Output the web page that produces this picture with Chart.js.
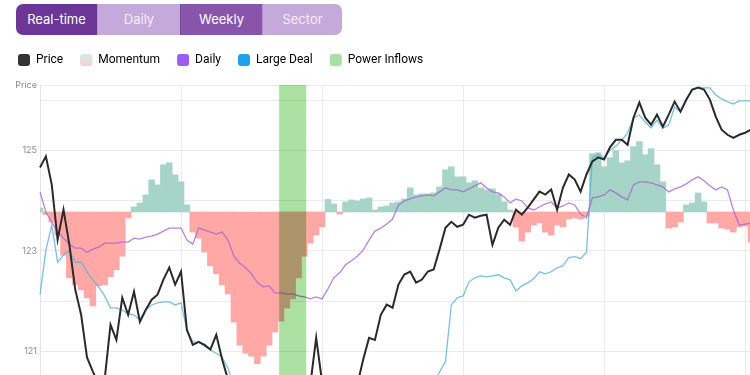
<!DOCTYPE html>
<html>
<head>
<meta charset="utf-8">
<script src="https://cdn.jsdelivr.net/npm/chart.js@4.4.1/dist/chart.umd.min.js"></script>
<style>
html,body{margin:0;padding:0;width:750px;height:375px;overflow:hidden;background:#fff;font-family:Inter,"Noto Sans",sans-serif;}
.tabs{position:absolute;left:16px;top:4px;height:31px;display:flex;border-radius:7px;overflow:hidden;}
.tab{box-sizing:border-box;height:31px;line-height:31px;text-align:center;color:#fff;font-size:13px;font-family:Inter,sans-serif;}
#c{position:absolute;left:1px;top:37px;}
</style>
</head>
<body>
<div class="tabs">
  <div class="tab" style="width:81px;background:#6b3696;">Real-time</div>
  <div class="tab" style="width:83px;background:#c6a9db;border-left:1px solid #b596cf;color:#f4eefa;">Daily</div>
  <div class="tab" style="width:82px;background:#8955ab;border-left:1px solid #7a479d;">Weekly</div>
  <div class="tab" style="width:80px;background:#c6a9db;border-left:1px solid #b596cf;color:#f4eefa;">Sector</div>
</div>
<canvas id="c" width="750" height="407"></canvas>
<script>
// ---- data ----
const price = [124.66,124.88,124.32,123.22,123.82,123.12,122.23,121.73,120.88,120.60,
120.34,120.44,121.53,121.23,122.07,121.73,122.19,121.59,121.83,122.03,
122.13,122.43,122.67,122.33,122.59,121.43,121.13,121.19,121.13,121.04,
121.33,120.84,120.44,120.14,120.04,119.84,119.94,119.74,119.84,119.64,
119.84,119.94,120.04,120.14,120.34,120.14,120.34,121.27,120.40,120.14,
120.04,119.94,120.14,120.24,120.34,120.84,121.27,121.23,121.73,121.93,
121.87,122.33,122.53,122.59,122.37,122.43,122.59,122.63,123.03,123.46,
123.58,123.48,123.52,123.72,123.66,123.70,123.72,123.12,123.46,123.62,
123.52,123.82,123.72,123.86,124.02,124.18,124.12,124.22,123.82,124.26,
124.52,124.42,124.18,124.52,124.78,124.86,124.82,125.06,125.21,125.21,
125.11,125.65,125.95,125.65,125.51,125.71,125.47,125.71,125.97,125.77,
126.01,126.21,126.25,126.21,126.01,125.67,125.41,125.31,125.25,125.31,
125.35,125.41];

const momentum = [0.08,-0.05,-0.20,-0.46,-0.86,-1.31,-1.45,-1.55,-1.71,-1.87,
-1.47,-1.45,-1.29,-1.15,-0.88,-0.12,0.10,0.18,0.34,0.64,
0.54,0.94,0.98,0.74,0.60,0.14,-0.40,-0.52,-0.80,-1.07,
-1.23,-1.45,-1.63,-2.19,-2.65,-2.81,-2.87,-3.02,-2.87,-2.65,
-2.39,-2.17,-1.91,-1.73,-1.31,-0.88,-0.62,-0.46,-0.30,0.25,
0.16,-0.04,0.20,0.24,0.22,0.26,0.28,0.04,0.10,0.12,
0.18,0.20,0.26,0.48,0.34,0.36,0.36,0.38,0.50,0.84,
0.90,0.70,0.70,0.58,0.62,0.48,0.44,0.46,0.36,0.20,
0.04,-0.30,-0.58,-0.40,-0.26,-0.22,-0.40,-0.46,-0.26,-0.30,
-0.14,-0.12,-0.14,-0.08,1.16,1.18,0.90,1.08,1.22,0.98,
1.02,1.30,1.40,1.14,1.26,0.94,0.60,-0.32,-0.30,-0.20,
0.14,0.18,0.38,0.20,-0.22,-0.22,-0.32,-0.34,-0.40,-0.30,
-0.28,-0.60];

const daily = [0.40,0.00,-0.20,-0.40,-0.52,-0.64,-0.72,-0.72,-0.80,-0.74,
-0.70,-0.62,-0.62,-0.62,-0.60,-0.60,-0.52,-0.54,-0.50,-0.48,
-0.44,-0.38,-0.32,-0.32,-0.32,-0.56,-0.64,-0.32,-0.36,-0.40,
-0.44,-0.40,-0.56,-0.88,-1.02,-1.11,-1.23,-1.41,-1.49,-1.47,
-1.61,-1.61,-1.63,-1.63,-1.67,-1.69,-1.73,-1.69,-1.73,-1.53,
-1.31,-1.21,-1.05,-0.97,-0.88,-0.76,-0.56,-0.38,-0.32,-0.24,
-0.14,0.14,0.22,0.26,0.30,0.32,0.34,0.32,0.40,0.48,
0.44,0.44,0.40,0.46,0.52,0.58,0.48,0.40,0.38,0.30,
0.18,0.26,0.22,0.08,0.04,0.10,0.16,0.20,0.08,0.12,
0.18,0.14,-0.04,-0.12,0.28,0.30,0.34,0.44,0.38,0.30,
0.24,0.54,0.60,0.60,0.58,0.54,0.50,0.40,0.46,0.50,
0.56,0.64,0.70,0.62,0.52,0.44,0.50,0.44,0.04,-0.26,
-0.24,-0.22];

const largeDeal = [-1.65,-0.76,-0.26,-1.00,-0.86,-0.76,-1.00,-1.00,-1.19,-1.35,
-1.49,-1.67,-1.91,-1.91,-1.95,-2.03,-2.05,-2.15,-1.95,-1.85,
-1.81,-1.79,-1.79,-1.85,-1.81,-2.35,-2.59,-2.59,-2.67,-2.75,
-2.81,-2.89,-3.11,-3.44,-3.54,-3.64,-3.70,-3.74,-3.78,-3.84,
-3.82,-3.86,-3.90,-3.84,-3.88,-3.94,-3.90,-3.86,-3.84,-3.82,
-3.86,-3.80,-3.76,-3.74,-3.78,-3.74,-3.70,-3.72,-3.66,-3.68,
-3.64,-3.66,-3.60,-3.62,-3.58,-3.54,-3.52,-3.44,-3.18,-2.98,
-1.85,-1.71,-1.67,-1.39,-1.31,-1.27,-1.29,-1.27,-1.25,-1.31,
-1.35,-1.57,-1.47,-1.41,-1.33,-1.19,-1.23,-1.19,-1.11,-1.07,
-0.91,-0.89,-0.93,-0.80,1.08,1.15,1.08,1.23,1.31,1.43,
1.57,1.87,1.93,1.79,1.67,1.83,1.67,1.73,2.09,1.99,
2.23,2.43,2.47,2.47,2.47,2.33,2.25,2.19,2.15,2.21,
2.21,2.21];

// power-inflow window: centre sample and width in samples
const powerInflowCenter = 43;
const powerInflowSpan = 4.6;

// y tick values, labels shown only on some
const yTicks = [126,125,124,123,122,121,120];
const yLabeled = [125,123,121];
const yTopLabel = 'Price';

const legendNames = ['Price','Momentum','Daily','Large Deal','Power Inflows'];
const legendColors = ['#333333','#e6dcd8','#9b5cf0','#1ea2ec','#a9dea6'];

// category labels: trading-session minute stamps
const labels = [];
for (let i = 0; i < price.length; i++) {
  let m = 570 + i * 2; if (m > 690) m += 90;
  labels.push(String(Math.floor(m / 60)).padStart(2, '0') + ':' + String(m % 60).padStart(2, '0'));
}
const powerInflows = labels.map((_, i) => i === powerInflowCenter ? 1 : null);

// axis ranges
const PRICE_MAX = 126.30, PRICE_MIN = 119.358;
const FLOW_MAX = 2.527, FLOW_MIN = -4.418;

const POS = 'rgb(166,212,198)', NEG = 'rgb(255,168,166)';

const legendHeight = {
  id: 'legendHeight',
  beforeInit(chart) {
    const lg = chart.legend; const f = lg.fit;
    lg.fit = function () { f.call(this); this.height = 48; };
  }
};
const multiplyBand = {
  id: 'multiplyBand',
  beforeDatasetDraw(chart, args) {
    if (args.index === 4) { chart.ctx.save(); chart.ctx.globalCompositeOperation = 'multiply'; }
  },
  afterDatasetDraw(chart, args) {
    if (args.index === 4) chart.ctx.restore();
  }
};
const momentumBox = {
  id: 'momentumBox',
  afterDraw(chart) {
    const hb = chart.legend && chart.legend.legendHitBoxes && chart.legend.legendHitBoxes[1];
    if (!hb) return;
    const c = chart.ctx, x = hb.left, y = hb.top;
    const g = c.createLinearGradient(0, y, 0, y + 12);
    g.addColorStop(0, '#d3ebe4'); g.addColorStop(1, '#f9cfcf');
    c.save(); c.fillStyle = g; c.beginPath();
    if (c.roundRect) c.roundRect(x, y, 12, 12, 3); else c.rect(x, y, 12, 12);
    c.fill(); c.restore();
  }
};

new Chart(document.getElementById('c'), {
  type: 'line',
  data: {
    labels,
    datasets: [
      {label: 'Price', data: price, yAxisID: 'y', borderColor: '#2a2a2a', borderWidth: 2, pointRadius: 0, tension: 0, order: 2},
      {label: 'Momentum', type: 'bar', data: momentum, yAxisID: 'flow', backgroundColor: momentum.map(v => v >= 0 ? POS : NEG), borderWidth: 0, barPercentage: 1, categoryPercentage: 1, grouped: false, order: 5},
      {label: 'Daily', data: daily, yAxisID: 'flow', borderColor: 'rgba(165,100,210,0.8)', borderWidth: 1.3, pointRadius: 0, tension: 0, order: 3},
      {label: 'Large Deal', data: largeDeal, yAxisID: 'flow', borderColor: 'rgba(85,178,215,0.8)', borderWidth: 1.3, pointRadius: 0, tension: 0, order: 4},
      {label: 'Power Inflows', type: 'bar', data: powerInflows, yAxisID: 'band', backgroundColor: 'rgb(172,224,162)', borderWidth: 0, inflateAmount: 0, barPercentage: powerInflowSpan, categoryPercentage: 1, grouped: false, order: 1}
    ]
  },
  options: {
    responsive: false,
    animation: false,
    layout: {padding: 0},
    plugins: {
      tooltip: {enabled: false},
      legend: {
        position: 'top', align: 'start',
        labels: {
          boxWidth: 12, boxHeight: 12, padding: 17, useBorderRadius: true, borderRadius: 3,
          color: '#333', font: {size: 12, family: 'Roboto'},
          generateLabels: () => legendNames.map((t, i) => ({text: t, fillStyle: legendColors[i], strokeStyle: legendColors[i], lineWidth: 0, hidden: false, datasetIndex: i, borderRadius: 3}))
        }
      }
    },
    scales: {
      x: {
        type: 'category', offset: false,
        grid: {offset: false, drawTicks: false, color: c => (c.index % 24 === 0 ? '#e9e9e9' : 'rgba(0,0,0,0)')},
        ticks: {display: false, autoSkip: false},
        border: {display: false},
        afterFit: s => { s.height = 10; }
      },
      y: {
        position: 'left', min: PRICE_MIN, max: PRICE_MAX,
        afterBuildTicks: s => { s.ticks = [PRICE_MAX, ...yTicks].map(v => ({value: v})); },
        ticks: {
          autoSkip: false, padding: 3, color: '#8a8a8a', font: {size: 9, family: 'Inter'},
          callback: v => (v === PRICE_MAX ? yTopLabel : (yLabeled.includes(v) ? String(v) : ''))
        },
        grid: {color: '#ebebeb', drawTicks: false},
        border: {display: true, color: '#e4e4e4'},
        afterFit: s => { s.width = 39; }
      },
      flow: {display: false, min: FLOW_MIN, max: FLOW_MAX},
      band: {display: false, min: 0, max: 1}
    }
  },
  plugins: [legendHeight, multiplyBand, momentumBox]
});
</script>
</body>
</html>
